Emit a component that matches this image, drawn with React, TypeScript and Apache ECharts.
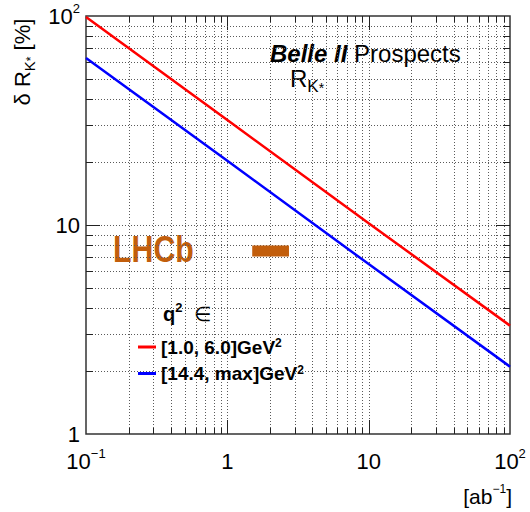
import React, { useEffect, useRef } from "react";
import * as echarts from "echarts";

const FONT = "'Liberation Sans', Arial, Helvetica, sans-serif";

// integrated luminosity [ab^-1]
const luminosity = [0.1, 1, 10, 100];
const redValues = [99, 31.8, 10.2, 3.3];
const blueValues = [63, 20.3, 6.5, 2.1];
const seriesBase = ["[1.0, 6.0]GeV", "[14.4, max]GeV"];
const seriesSup = ["2", "2"];
const seriesColors = ["#ff0000", "#0000ff"];

const lhcbX = [1.5, 2.73];
const lhcbY = [7.5, 7.5];

const xTickValues = [0.1, 1, 10, 100];
const xTickLabels = [["10", "\u22121"], ["1", ""], ["10", ""], ["10", "2"]];
const yTickValues = [1, 10, 100];
const yTickLabels = [["1", ""], ["10", ""], ["10", "2"]];
const xMajorGrid = [1, 10];
const xMinorGrid = [0.2, 0.3, 0.4, 0.5, 0.6, 0.7, 0.8, 0.9, 2, 3, 4, 5, 6, 7, 8, 9, 20, 30, 40, 50, 60, 70, 80, 90];
const yMajorGrid = [10];
const yMinorGrid = [2, 3, 4, 5, 6, 7, 8, 9, 20, 30, 40, 50, 60, 70, 80, 90];

const seriesNames = seriesBase.map((b, i) => b + (seriesSup[i] === "2" ? "\u00b2" : seriesSup[i]));

function tickFormatter(values: number[], labels: string[][]) {
  return (v: number) => {
    for (let i = 0; i < values.length; i++) {
      if (Math.abs(Math.log10(v) - Math.log10(values[i])) < 1e-6) {
        const [b, s] = labels[i];
        return s ? `{b|${b}}{s|${s}}` : `{b|${b}}`;
      }
    }
    return "";
  };
}

const labelRich = {
  b: { fontFamily: FONT, fontSize: 22, lineHeight: 28, color: "#000" },
  s: { fontFamily: FONT, fontSize: 13, lineHeight: 13, verticalAlign: "top", color: "#000" },
};

const GRID_COLOR = "#5a5a5a";

const xGridRender = (params: any, api: any) => {
  const cs = params.coordSys;
  const major = api.value(2) === 1;
  const p = api.coord([api.value(0), api.value(1)]);
  const x = Math.round(p[0]) + 0.5;
  const top = cs.y;
  const bottom = cs.y + cs.height;
  const len = major ? 14 : 6;
  return {
    type: "group",
    children: [
      { type: "line", shape: { x1: x, y1: top, x2: x, y2: bottom }, style: { stroke: GRID_COLOR, lineWidth: 1, lineDash: [1, 2] } },
      { type: "line", shape: { x1: x, y1: bottom, x2: x, y2: bottom - len }, style: { stroke: "#222", lineWidth: 1 } },
      { type: "line", shape: { x1: x, y1: top, x2: x, y2: top + len }, style: { stroke: "#222", lineWidth: 1 } },
    ],
  };
};

const yGridRender = (params: any, api: any) => {
  const cs = params.coordSys;
  const major = api.value(2) === 1;
  const p = api.coord([api.value(0), api.value(1)]);
  const y = Math.round(p[1]) + 0.5;
  const left = cs.x;
  const right = cs.x + cs.width;
  const len = major ? 14 : 7;
  return {
    type: "group",
    children: [
      { type: "line", shape: { x1: left, y1: y, x2: right, y2: y }, style: { stroke: GRID_COLOR, lineWidth: 1, lineDash: [1, 2] } },
      { type: "line", shape: { x1: left, y1: y, x2: left + len, y2: y }, style: { stroke: "#222", lineWidth: 1 } },
      { type: "line", shape: { x1: right, y1: y, x2: right - len, y2: y }, style: { stroke: "#222", lineWidth: 1 } },
    ],
  };
};

function buildOption() {
  const lineSeries = [redValues, blueValues].map((vals, i) => ({
    type: "line",
    name: seriesNames[i],
    data: luminosity.map((x, j) => [x, vals[j]]),
    symbol: "none",
    showSymbol: false,
    lineStyle: { color: seriesColors[i], width: 2.5 },
    itemStyle: { color: seriesColors[i] },
    z: 5,
  }));

  return {
    animation: false,
    backgroundColor: "#fff",
    grid: {
      left: 86,
      top: 16,
      right: 20,
      bottom: 78,
      show: true,
      borderColor: "#333",
      borderWidth: 1.5,
      backgroundColor: "transparent",
    },
    xAxis: {
      type: "log",
      logBase: 10,
      min: 0.1,
      max: 100,
      axisLine: { show: false },
      axisTick: { show: false },
      splitLine: { show: false },
      minorTick: { show: false },
      minorSplitLine: { show: false },
      axisLabel: {
        margin: 13,
        showMinLabel: true,
        showMaxLabel: true,
        fontFamily: FONT,
        fontSize: 22,
        color: "#000",
        formatter: tickFormatter(xTickValues, xTickLabels),
        rich: labelRich,
      },
    },
    yAxis: {
      type: "log",
      logBase: 10,
      min: 1,
      max: 100,
      axisLine: { show: false },
      axisTick: { show: false },
      splitLine: { show: false },
      minorTick: { show: false },
      minorSplitLine: { show: false },
      axisLabel: {
        margin: 6,
        showMinLabel: true,
        showMaxLabel: true,
        fontFamily: FONT,
        fontSize: 22,
        color: "#000",
        formatter: tickFormatter(yTickValues, yTickLabels),
        rich: labelRich,
      },
    },
    legend: {
      data: seriesNames,
      orient: "vertical",
      left: 138,
      top: 337,
      itemWidth: 18,
      itemHeight: 3,
      itemGap: 7,
      icon: "rect",
      padding: 0,
      selectedMode: false,
      formatter: (name: string) => {
        const i = seriesNames.indexOf(name);
        return `{t|${seriesBase[i]}}{s|${seriesSup[i]}}`;
      },
      textStyle: {
        fontFamily: FONT,
        fontSize: 19,
        fontWeight: "bold",
        color: "#000",
        rich: {
          t: { fontFamily: FONT, fontSize: 19, fontWeight: "bold", lineHeight: 20, color: "#000" },
          s: { fontFamily: FONT, fontSize: 12, fontWeight: "bold", lineHeight: 12, verticalAlign: "top", color: "#000" },
        },
      },
    },
    series: [
      {
        type: "custom",
        name: "xgrid",
        silent: true,
        renderItem: xGridRender,
        encode: { x: 0, y: 1 },
        data: xMajorGrid.map((v) => [v, 1, 1]).concat(xMinorGrid.map((v) => [v, 1, 0])),
        z: 1,
      },
      {
        type: "custom",
        name: "ygrid",
        silent: true,
        renderItem: yGridRender,
        encode: { x: 0, y: 1 },
        data: yMajorGrid.map((v) => [0.1, v, 1]).concat(yMinorGrid.map((v) => [0.1, v, 0])),
        z: 1,
      },
      ...lineSeries,
      {
        type: "line",
        name: "LHCb",
        data: lhcbX.map((x, j) => [x, lhcbY[j]]),
        symbol: "none",
        lineStyle: { color: "#c25e0c", width: 11, cap: "butt" },
        z: 6,
      },
    ],
    graphic: [
      {
        type: "text",
        x: 270,
        y: 53,
        style: {
          text: "{bi|Belle II} {r|Prospects}",
          fontFamily: FONT,
          fontSize: 24,
          fill: "#000",
          align: "left",
          verticalAlign: "middle",
          rich: {
            bi: { fontFamily: FONT, fontSize: 24, fontWeight: "bold", fontStyle: "italic", lineHeight: 28 },
            r: { fontFamily: FONT, fontSize: 24, lineHeight: 28 },
          },
        },
      },
      {
        type: "text",
        x: 290,
        y: 78,
        style: {
          text: "{R|R}{k|K}{st|*}",
          fontFamily: FONT,
          fontSize: 24,
          fill: "#000",
          align: "left",
          verticalAlign: "middle",
          rich: {
            R: { fontFamily: FONT, fontSize: 24, lineHeight: 33 },
            k: { fontFamily: FONT, fontSize: 17, lineHeight: 17, verticalAlign: "bottom" },
            st: { fontFamily: FONT, fontSize: 14, lineHeight: 20, verticalAlign: "bottom" },
          },
        },
      },
      {
        type: "text",
        x: 22,
        y: 62,
        rotation: Math.PI / 2,
        style: {
          text: "{t|\u03b4 R}{k|K}{st|*}{t| [%]}",
          fontFamily: FONT,
          fontSize: 22,
          fill: "#000",
          align: "center",
          verticalAlign: "middle",
          rich: {
            t: { fontFamily: FONT, fontSize: 22, lineHeight: 30 },
            k: { fontFamily: FONT, fontSize: 15, lineHeight: 15, verticalAlign: "bottom" },
            st: { fontFamily: FONT, fontSize: 12, lineHeight: 18, verticalAlign: "bottom" },
          },
        },
      },
      {
        type: "text",
        x: 512,
        y: 496,
        style: {
          text: "{t|[ab}{s|\u22121}{t|]}",
          fontFamily: FONT,
          fontSize: 21,
          fill: "#000",
          align: "right",
          verticalAlign: "middle",
          rich: {
            t: { fontFamily: FONT, fontSize: 21, lineHeight: 27 },
            s: { fontFamily: FONT, fontSize: 12, lineHeight: 12, verticalAlign: "top" },
          },
        },
      },
      {
        type: "text",
        x: 113,
        y: 249,
        scaleX: 0.82,
        style: {
          text: "LHCb",
          fontFamily: FONT,
          fontSize: 37,
          fontWeight: "bold",
          fill: "#c25e0c",
          align: "left",
          verticalAlign: "middle",
        },
      },
      {
        type: "text",
        x: 163,
        y: 314,
        style: {
          text: "{q|q}{s|2}{e|  \u2208}",
          fontFamily: FONT,
          fontSize: 20,
          fill: "#000",
          align: "left",
          verticalAlign: "middle",
          rich: {
            q: { fontFamily: FONT, fontSize: 20, fontWeight: "bold", lineHeight: 26 },
            s: { fontFamily: FONT, fontSize: 13, fontWeight: "bold", lineHeight: 13, verticalAlign: "top" },
            e: { fontFamily: FONT, fontSize: 20, lineHeight: 26 },
          },
        },
      },
    ],
  };
}

export default function App() {
  const ref = useRef<HTMLDivElement>(null);
  useEffect(() => {
    const chart = echarts.init(ref.current!, null, { renderer: "svg" });
    chart.setOption(buildOption() as any);
    return () => chart.dispose();
  }, []);
  return (
    <div
      ref={ref}
      style={{ position: "fixed", left: 0, top: 0, width: 530, height: 512, background: "#fff" }}
    />
  );
}
